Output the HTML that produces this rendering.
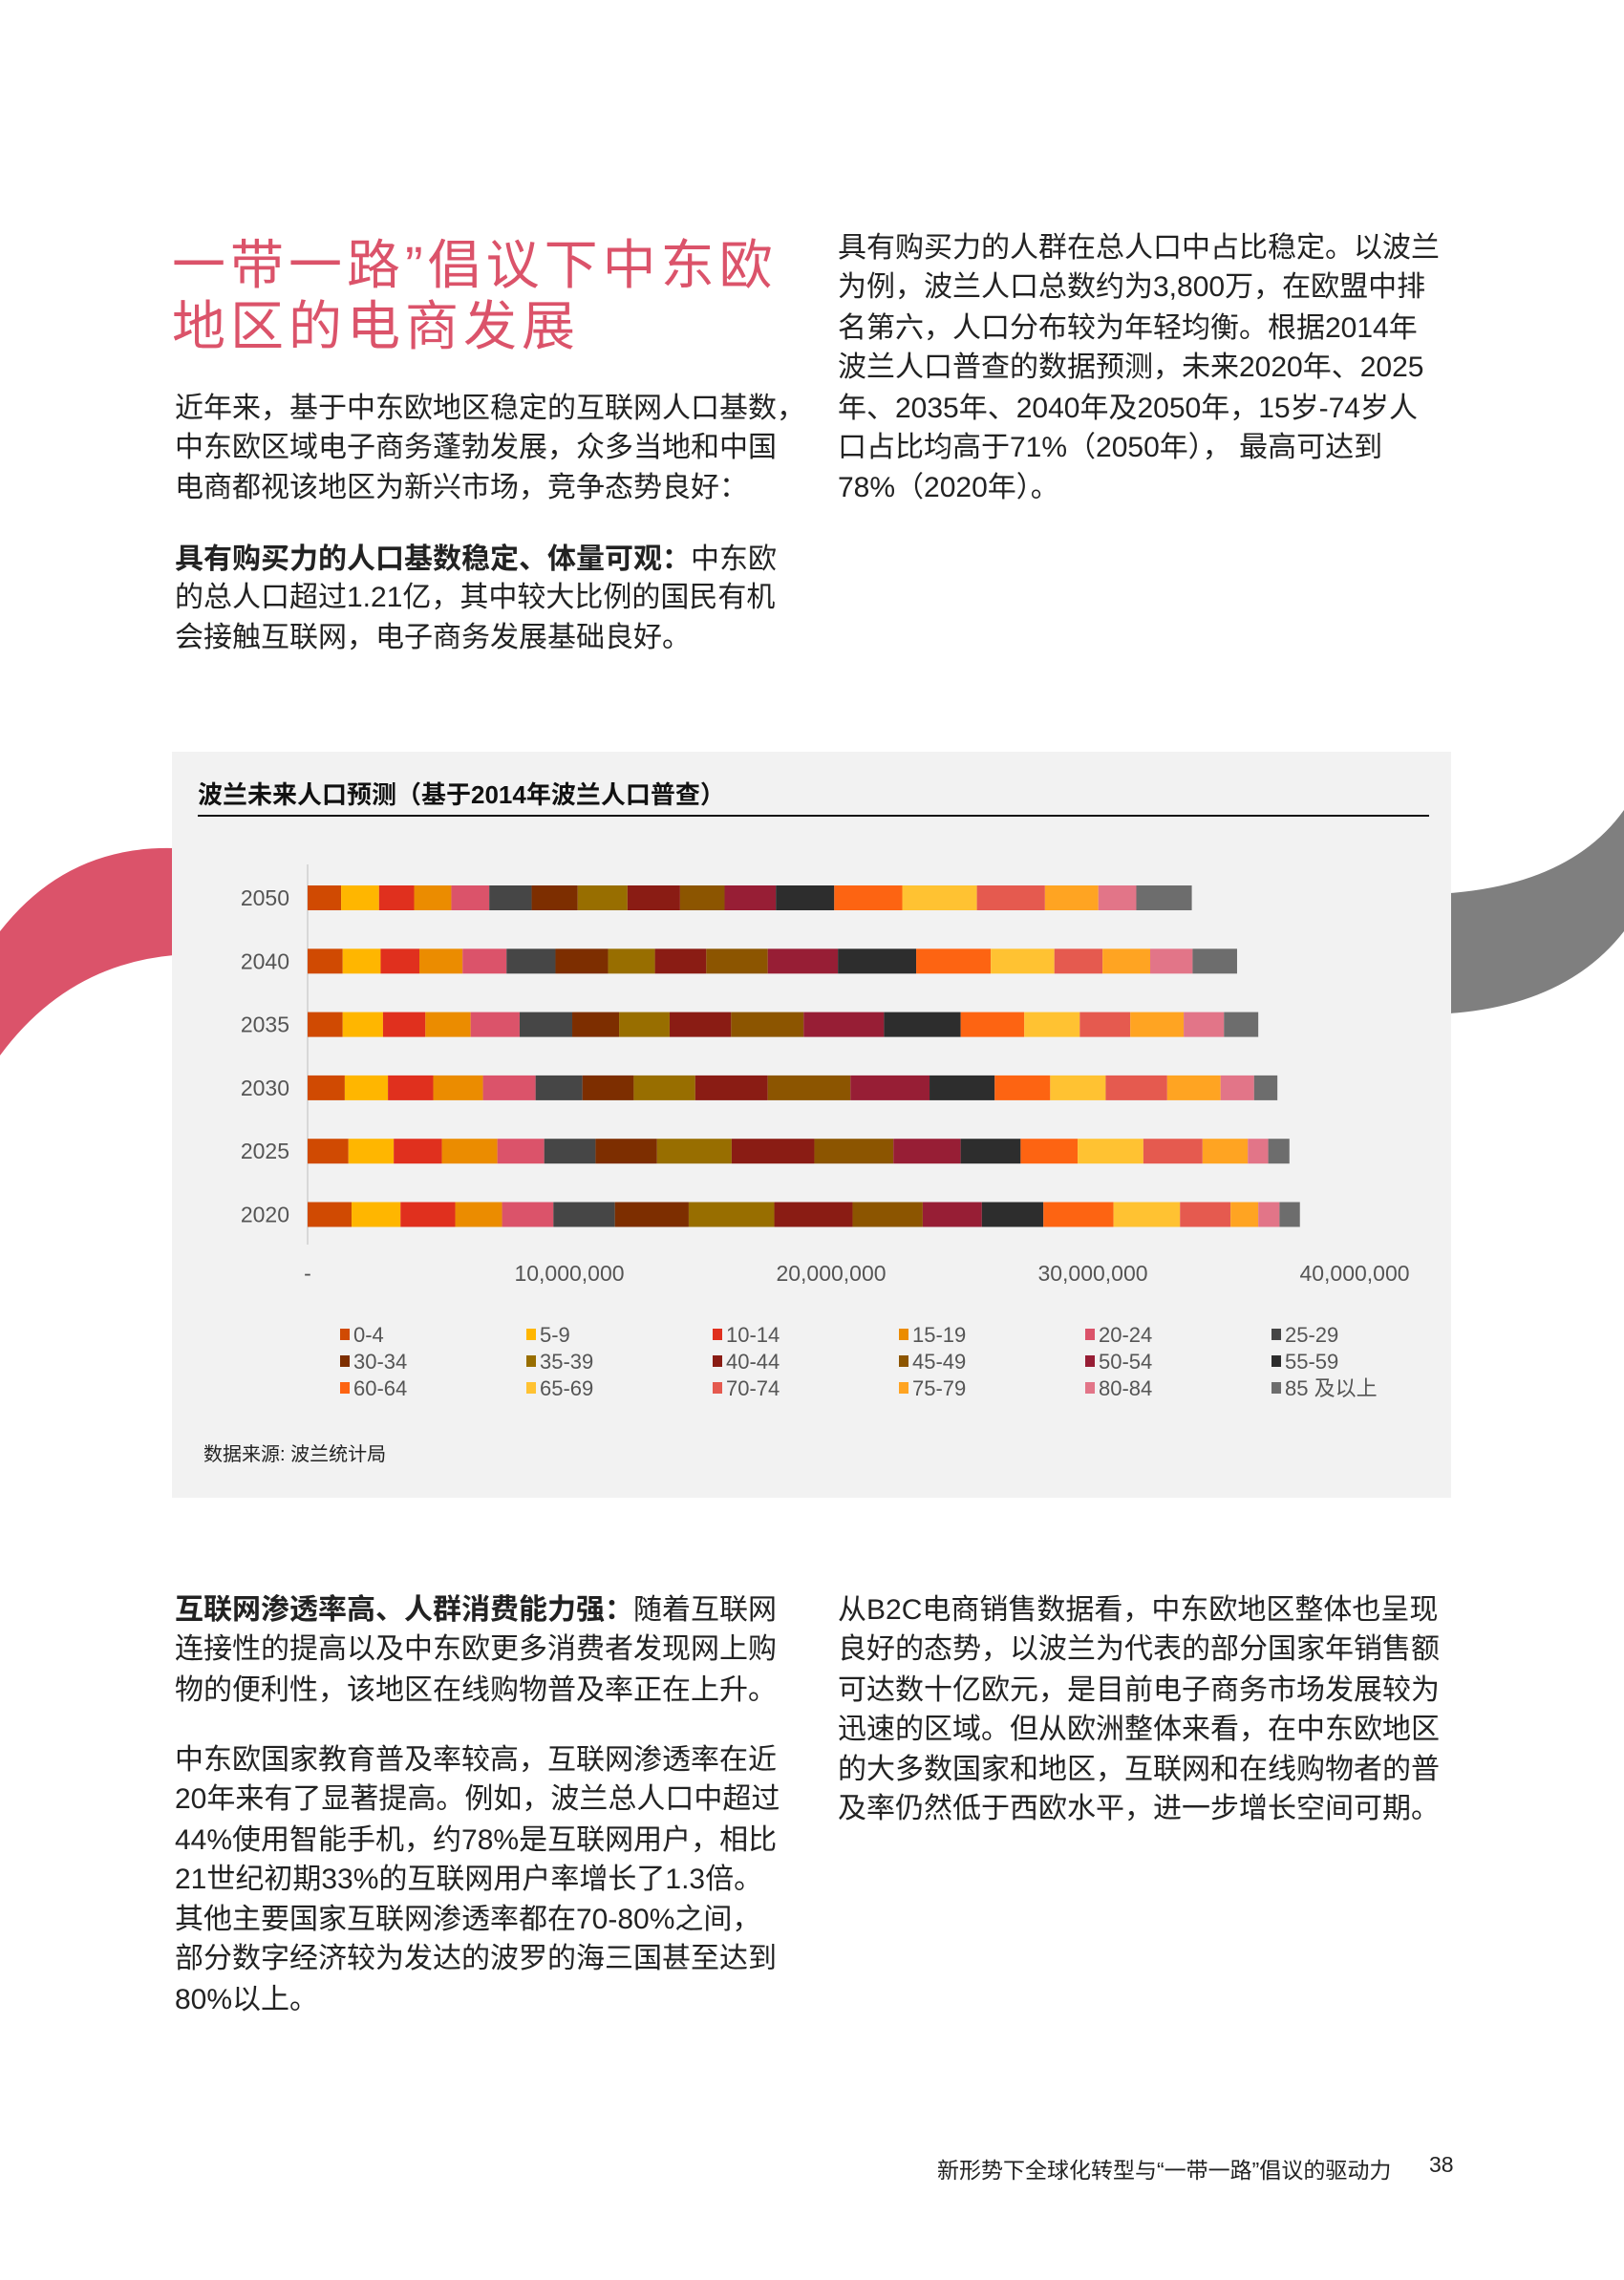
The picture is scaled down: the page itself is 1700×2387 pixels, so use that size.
<!DOCTYPE html>
<html><head><meta charset="utf-8">
<style>
html,body{margin:0;padding:0;}
body{width:1700px;height:2387px;position:relative;background:#fff;overflow:hidden;font-family:"Liberation Sans","Noto Sans CJK SC",sans-serif;color:#222;}
.l{position:absolute;white-space:nowrap;font-size:30px;line-height:42px;}
.t{position:absolute;white-space:nowrap;font-size:56px;line-height:64px;color:#db536a;letter-spacing:5px;}
b{font-weight:bold;}
</style></head><body>
<svg width="1700" height="2387" style="position:absolute;left:0;top:0">
<path d="M182,888 Q70,885 0,975 L0,1105 Q70,1010 182,1000 Z" fill="#db536a"/>
<path d="M1518,935 Q1645,925 1700,848 L1700,975 Q1640,1052 1518,1061 Z" fill="#7f7f7f"/>
</svg>

<div class="t" style="left:180px;top:246px">一带一路”倡议下中东欧</div>
<div class="t" style="left:180px;top:310px">地区的电商发展</div>

<div>
<div class="l" style="left:183px;top:407px">近年来，基于中东欧地区稳定的互联网人口基数，</div>
<div class="l" style="left:183px;top:448px">中东欧区域电子商务蓬勃发展，众多当地和中国</div>
<div class="l" style="left:183px;top:490px">电商都视该地区为新兴市场，竞争态势良好：</div>
</div>
<div>
<div class="l" style="left:183px;top:565px"><b>具有购买力的人口基数稳定、体量可观：</b>中东欧</div>
<div class="l" style="left:183px;top:605px">的总人口超过1.21亿，其中较大比例的国民有机</div>
<div class="l" style="left:183px;top:647px">会接触互联网，电子商务发展基础良好。</div>
</div>
<div>
<div class="l" style="left:877px;top:239px">具有购买力的人群在总人口中占比稳定。以波兰</div>
<div class="l" style="left:877px;top:280px">为例，波兰人口总数约为3,800万，在欧盟中排</div>
<div class="l" style="left:877px;top:323px">名第六，人口分布较为年轻均衡。根据2014年</div>
<div class="l" style="left:877px;top:364px">波兰人口普查的数据预测，未来2020年、2025</div>
<div class="l" style="left:877px;top:407px">年、2035年、2040年及2050年，15岁-74岁人</div>
<div class="l" style="left:877px;top:448px">口占比均高于71%（2050年）， 最高可达到</div>
<div class="l" style="left:877px;top:490px">78%（2020年）。</div>
</div>

<div style="position:absolute;left:180px;top:787px;width:1339px;height:781px;background:#f2f2f2"></div>
<div style="position:absolute;left:207px;top:812px;font-size:26px;font-weight:bold;white-space:nowrap;color:#111">波兰未来人口预测（基于2014年波兰人口普查）</div>
<div style="position:absolute;left:207px;top:853px;width:1289px;height:2px;background:#111"></div>
<svg id="chart" width="1700" height="2387" style="position:absolute;left:0;top:0"></svg>
<div style="position:absolute;left:213px;top:1506px;font-size:20px;white-space:nowrap;color:#222">数据来源: 波兰统计局</div>

<div>
<div class="l" style="left:183px;top:1665px"><b>互联网渗透率高、人群消费能力强：</b>随着互联网</div>
<div class="l" style="left:183px;top:1706px">连接性的提高以及中东欧更多消费者发现网上购</div>
<div class="l" style="left:183px;top:1749px">物的便利性，该地区在线购物普及率正在上升。</div>
</div>
<div>
<div class="l" style="left:183px;top:1822px">中东欧国家教育普及率较高，互联网渗透率在近</div>
<div class="l" style="left:183px;top:1863px">20年来有了显著提高。例如，波兰总人口中超过</div>
<div class="l" style="left:183px;top:1906px">44%使用智能手机，约78%是互联网用户，相比</div>
<div class="l" style="left:183px;top:1947px">21世纪初期33%的互联网用户率增长了1.3倍。</div>
<div class="l" style="left:183px;top:1989px">其他主要国家互联网渗透率都在70-80%之间，</div>
<div class="l" style="left:183px;top:2030px">部分数字经济较为发达的波罗的海三国甚至达到</div>
<div class="l" style="left:183px;top:2073px">80%以上。</div>
</div>
<div>
<div class="l" style="left:877px;top:1665px">从B2C电商销售数据看，中东欧地区整体也呈现</div>
<div class="l" style="left:877px;top:1706px">良好的态势，以波兰为代表的部分国家年销售额</div>
<div class="l" style="left:877px;top:1749px">可达数十亿欧元，是目前电子商务市场发展较为</div>
<div class="l" style="left:877px;top:1790px">迅速的区域。但从欧洲整体来看，在中东欧地区</div>
<div class="l" style="left:877px;top:1832px">的大多数国家和地区，互联网和在线购物者的普</div>
<div class="l" style="left:877px;top:1873px">及率仍然低于西欧水平，进一步增长空间可期。</div>
</div>

<div style="position:absolute;left:981px;top:2253px;font-size:23px;white-space:nowrap;color:#222">新形势下全球化转型与“一带一路”倡议的驱动力</div>
<div style="position:absolute;left:1496px;top:2253px;font-size:23px;color:#222">38</div>

<script>
const years = ["2050","2040","2035","2030","2025","2020"];
const ageGroups = ["0-4","5-9","10-14","15-19","20-24","25-29","30-34","35-39","40-44","45-49","50-54","55-59","60-64","65-69","70-74","75-79","80-84","85 及以上"];
const colors = ["#d04a02","#ffb600","#e0301e","#eb8c00","#db536a","#464646","#7d2e00","#986e00","#8a1c14","#8c5500","#971e35","#2d2d2d","#fd6412","#ffc232","#e55a4f","#ffa422","#e27588","#6d6d6d"];
const v2050 = [1.28,1.45,1.34,1.42,1.45,1.62,1.76,1.90,2.01,1.70,1.96,2.23,2.60,2.85,2.60,2.04,1.45,2.12];
const v2040 = [1.34,1.45,1.48,1.65,1.68,1.87,2.01,1.79,1.96,2.35,2.68,2.99,2.85,2.43,1.84,1.82,1.62,1.70];
const v2035 = [1.34,1.54,1.62,1.73,1.87,2.01,1.79,1.93,2.35,2.77,3.07,2.93,2.43,2.12,1.93,2.04,1.54,1.31];
const v2030 = [1.42,1.65,1.73,1.90,2.01,1.79,1.96,2.35,2.77,3.16,3.02,2.49,2.12,2.12,2.35,2.04,1.28,0.89];
const v2025 = [1.56,1.73,1.84,2.12,1.79,1.96,2.35,2.85,3.16,3.02,2.57,2.29,2.18,2.51,2.26,1.73,0.78,0.81];
const v2020 = [1.68,1.87,2.09,1.79,1.96,2.35,2.82,3.27,2.99,2.68,2.26,2.35,2.68,2.54,1.93,1.06,0.81,0.78];
const xTicks = [0,10,20,30,40];
const xTickLabels = ["-","10,000,000","20,000,000","30,000,000","40,000,000"];

const series = [v2050,v2040,v2035,v2030,v2025,v2020];
const NS = "http://www.w3.org/2000/svg";
const svg = document.getElementById("chart");
const x0 = 322, pxPerMillion = 27.4;
const xScale = v => x0 + v * pxPerMillion;
const yTop = 927, yStep = 66.3, barH = 26;
const yScale = i => yTop + i * yStep;
function mk(tag, attrs){const e=document.createElementNS(NS,tag);for(const k in attrs)e.setAttribute(k,attrs[k]);svg.appendChild(e);return e;}

const axis = mk("line",{x1:x0,y1:905,x2:x0,y2:1303,stroke:"#cfcfcf","stroke-width":1.5});



years.forEach((yr,i)=>{
  const t = mk("text",{x:303,y:yScale(i)+barH/2+8,"text-anchor":"end","font-size":23,fill:"#555","font-family":"Liberation Sans, sans-serif"});
  t.textContent = yr;
  
  
  let cum = 0;
  series[i].forEach((v,j)=>{
    const r = mk("rect",{x:xScale(cum),y:yScale(i),width:xScale(cum+v)-xScale(cum),height:barH,fill:colors[j]});
    
    
    cum += v;
  });
});

xTicks.forEach((tv,k)=>{
  const t = mk("text",{x:xScale(tv),y:1341,"text-anchor":"middle","font-size":23,fill:"#555","font-family":"Liberation Sans, sans-serif"});
  t.textContent = xTickLabels[k];
  
  
});

const legX = [356,551,746,941,1136,1331], legY = [1397,1425,1453];
ageGroups.forEach((g,j)=>{
  const col = j % 6, row = Math.floor(j/6);
  const s = mk("rect",{x:legX[col],y:legY[row]-6,width:10,height:12,fill:colors[j]});
  
  
  const t = mk("text",{x:legX[col]+14,y:legY[row]+8,"font-size":22,fill:"#555","font-family":"Liberation Sans, Noto Sans CJK SC, sans-serif"});
  t.textContent = g;
  
  
});
</script>
</body></html>
